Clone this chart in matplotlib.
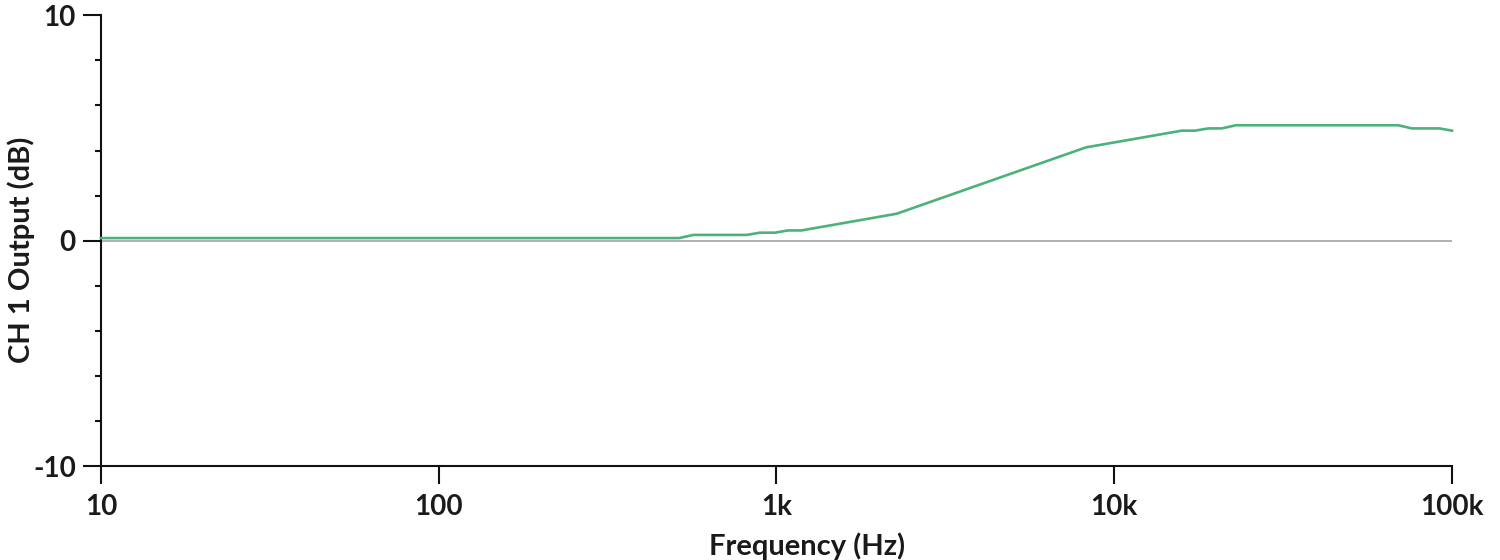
import numpy as np
import matplotlib.pyplot as plt
from matplotlib.ticker import FixedLocator, NullLocator

# frequency response
freq_hz = [10, 515, 567, 816, 894, 990, 1082, 1187, 2270, 8250,
           15840, 17340, 18990, 20800, 22940, 69340, 76030, 91730, 100000]
gain_db = [0.12, 0.12, 0.26, 0.26, 0.36, 0.36, 0.46, 0.46, 1.2, 4.14,
           4.88, 4.88, 4.98, 4.98, 5.12, 5.12, 4.98, 4.98, 4.88]

x_ticks = [10, 100, 1000, 10000, 100000]
x_labels = ['10', '100', '1k', '10k', '100k']
y_major = [-10, 0, 10]
y_minor = [-8, -6, -4, -2, 2, 4, 6, 8]

plt.rcParams['font.family'] = ['Lato', 'DejaVu Sans']
plt.rcParams['font.weight'] = 'bold'
plt.rcParams['axes.unicode_minus'] = False

fig = plt.figure(figsize=(15, 5.6), dpi=100)
ax = fig.add_axes([0.0673, 0.167, 0.9007, 0.806])

ax.axhline(0, color='#aaaaaa', lw=1.3, zorder=1)
ax.plot(freq_hz, gain_db, color='#4cb27a', lw=1.9, zorder=3, clip_on=False)

ax.set_xscale('log')
ax.set_xlim(10, 100000)
ax.set_ylim(-10, 10)

ax.xaxis.set_major_locator(FixedLocator(x_ticks))
ax.xaxis.set_minor_locator(NullLocator())
ax.set_xticklabels(x_labels)
ax.yaxis.set_major_locator(FixedLocator(y_major))
ax.yaxis.set_minor_locator(FixedLocator(y_minor))

for side in ['top', 'right']:
    ax.spines[side].set_visible(False)
for side in ['left', 'bottom']:
    ax.spines[side].set_linewidth(1.5)
    ax.spines[side].set_color('#111111')

ax.tick_params(axis='both', which='major', length=13, width=1.5,
               color='#111111', labelsize=20, labelcolor='#1a1a1a')
ax.tick_params(axis='y', which='major', pad=5)
ax.tick_params(axis='x', which='major', pad=7)
ax.tick_params(axis='y', which='minor', length=4, width=1.5, color='#111111')

ax.set_xlabel('Frequency (Hz)', fontsize=21, fontweight='bold', color='#1a1a1a',
              va='baseline')
ax.xaxis.set_label_coords(0.523, -0.196)
ax.set_ylabel('CH 1 Output (dB)', fontsize=21, fontweight='bold', color='#1a1a1a',
              va='baseline')
ax.yaxis.set_label_coords(-0.0526, 0.48)

fig.savefig('out.png', dpi=100)
